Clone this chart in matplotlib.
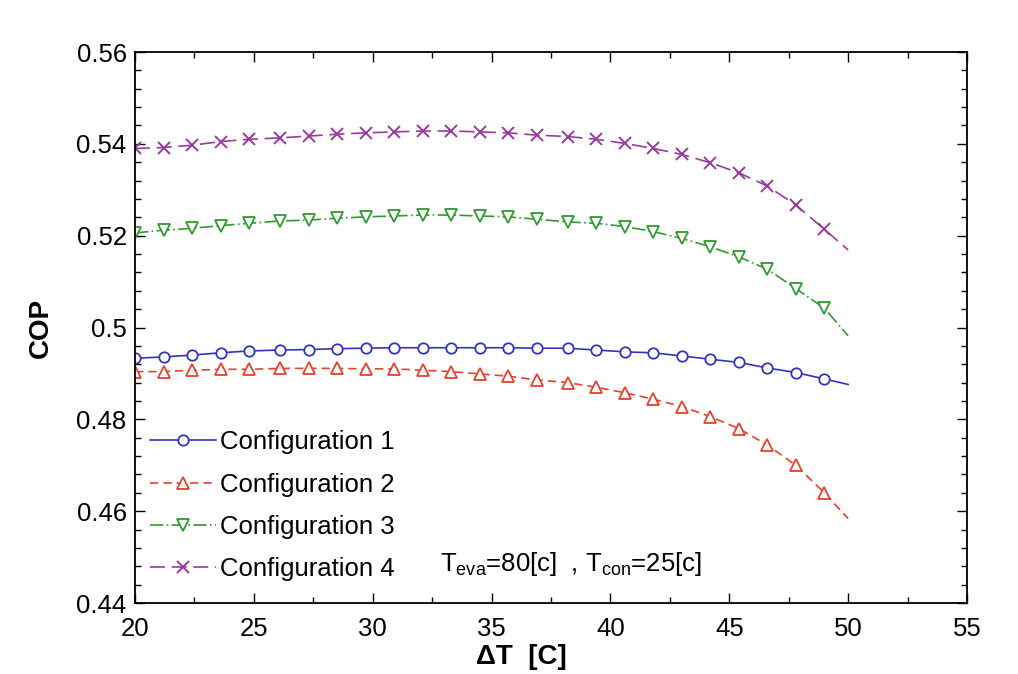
import matplotlib
matplotlib.use("Agg")
import matplotlib.pyplot as plt
from matplotlib.ticker import MultipleLocator

plt.rcParams['font.family'] = ['Liberation Sans', 'DejaVu Sans']
plt.rcParams['mathtext.fontset'] = 'custom'
plt.rcParams['mathtext.rm'] = 'Liberation Sans'
plt.rcParams['mathtext.it'] = 'Liberation Sans:italic'
plt.rcParams['mathtext.bf'] = 'Liberation Sans:bold'

# temperature difference (marker positions + curve end at 50)
delta_t = [20.0, 21.2, 22.4, 23.6, 24.8, 26.1, 27.3, 28.5, 29.7, 30.9,
           32.1, 33.3, 34.5, 35.7, 36.9, 38.2, 39.4, 40.6, 41.8, 43.0,
           44.2, 45.4, 46.6, 47.8, 49.0, 50.0]

cop_conf1 = [0.4933, 0.4936, 0.4940, 0.4945, 0.4949, 0.4951, 0.4952, 0.4954, 0.4955, 0.4956,
             0.4956, 0.4956, 0.4956, 0.4956, 0.4955, 0.4955, 0.4951, 0.4947, 0.4945, 0.4938,
             0.4931, 0.4924, 0.4912, 0.4902, 0.4888, 0.4876]
cop_conf2 = [0.4904, 0.4904, 0.4907, 0.4909, 0.4909, 0.4911, 0.4911, 0.4911, 0.4910, 0.4910,
             0.4907, 0.4904, 0.4899, 0.4894, 0.4886, 0.4880, 0.4870, 0.4858, 0.4844, 0.4828,
             0.4806, 0.4780, 0.4744, 0.4700, 0.4640, 0.4584]
cop_conf3 = [0.5206, 0.5212, 0.5216, 0.5222, 0.5227, 0.5232, 0.5234, 0.5238, 0.5241, 0.5243,
             0.5245, 0.5245, 0.5243, 0.5241, 0.5236, 0.5230, 0.5227, 0.5220, 0.5209, 0.5194,
             0.5176, 0.5154, 0.5127, 0.5085, 0.5042, 0.4982]
cop_conf4 = [0.5390, 0.5392, 0.5397, 0.5405, 0.5410, 0.5413, 0.5417, 0.5421, 0.5424, 0.5426,
             0.5428, 0.5428, 0.5426, 0.5424, 0.5419, 0.5416, 0.5410, 0.5401, 0.5390, 0.5377,
             0.5359, 0.5337, 0.5308, 0.5267, 0.5214, 0.5169]

labels = ["Configuration 1", "Configuration 2", "Configuration 3", "Configuration 4"]

fig = plt.figure(figsize=(10.18, 6.74), dpi=100)
ax = fig.add_axes([0.1326, 0.1053, 0.8173, 0.8175])

marks = list(range(len(delta_t) - 1))  # no marker on the last point

ax.plot(delta_t, cop_conf1, color='#3434c4', lw=1.2, ls='-', marker='o', ms=7.5,
        mfc='white', mec='#3434c4', mew=1.3, markevery=marks, label=labels[0])
ax.plot(delta_t, cop_conf2, color='#e8402c', lw=1.2, ls=(0, (5, 3)), marker='^', ms=8,
        mfc='white', mec='#e8402c', mew=1.3, markevery=marks, label=labels[1])
ax.plot(delta_t, cop_conf3, color='#2f9a2f', lw=1.2, ls=(0, (8, 2, 1, 2)), marker='v', ms=8,
        mfc='white', mec='#2f9a2f', mew=1.3, markevery=marks, label=labels[2])
ax.plot(delta_t, cop_conf4, color='#9a3a9e', lw=1.2, ls=(0, (9, 4)), marker='x', ms=8.5,
        mec='#9a3a9e', mew=1.4, markevery=marks, label=labels[3])

ax.set_xlim(20, 55)
ax.set_ylim(0.44, 0.56)
ax.xaxis.set_major_locator(MultipleLocator(5))
ax.xaxis.set_minor_locator(MultipleLocator(2.5))
ax.yaxis.set_major_locator(MultipleLocator(0.02))
ax.yaxis.set_minor_locator(MultipleLocator(0.004))
ax.set_yticks([0.44, 0.46, 0.48, 0.50, 0.52, 0.54, 0.56])
ax.set_yticklabels(["0.44", "0.46", "0.48", "0.5", "0.52", "0.54", "0.56"])

ax.tick_params(which='both', direction='in', top=True, right=True, labelsize=18.5, width=1.0)
ax.tick_params(which='major', length=7)
ax.tick_params(which='minor', length=4)
ax.tick_params(axis='x', pad=10)
ax.tick_params(axis='y', pad=6)
for s in ax.spines.values():
    s.set_linewidth(1.3)

ax.set_xlabel("ΔT  [C]", fontsize=20, fontweight='bold', labelpad=0)
ax.xaxis.set_label_coords(0.465, -0.075)
ax.set_ylabel("COP", fontsize=20, fontweight='bold', labelpad=16)

leg = ax.legend(loc='lower left', bbox_to_anchor=(-0.004, 0.007), frameon=False, fontsize=18.5,
                handlelength=2.6, handletextpad=0.15, labelspacing=0.71, borderaxespad=0.3)

ax.text(0.366, 0.045, r"T$_{\mathrm{eva}}$=80[c]  , T$_{\mathrm{con}}$=25[c]",
        transform=ax.transAxes, fontsize=18.5, ha='left', va='bottom')

fig.savefig("out.png", dpi=100)
